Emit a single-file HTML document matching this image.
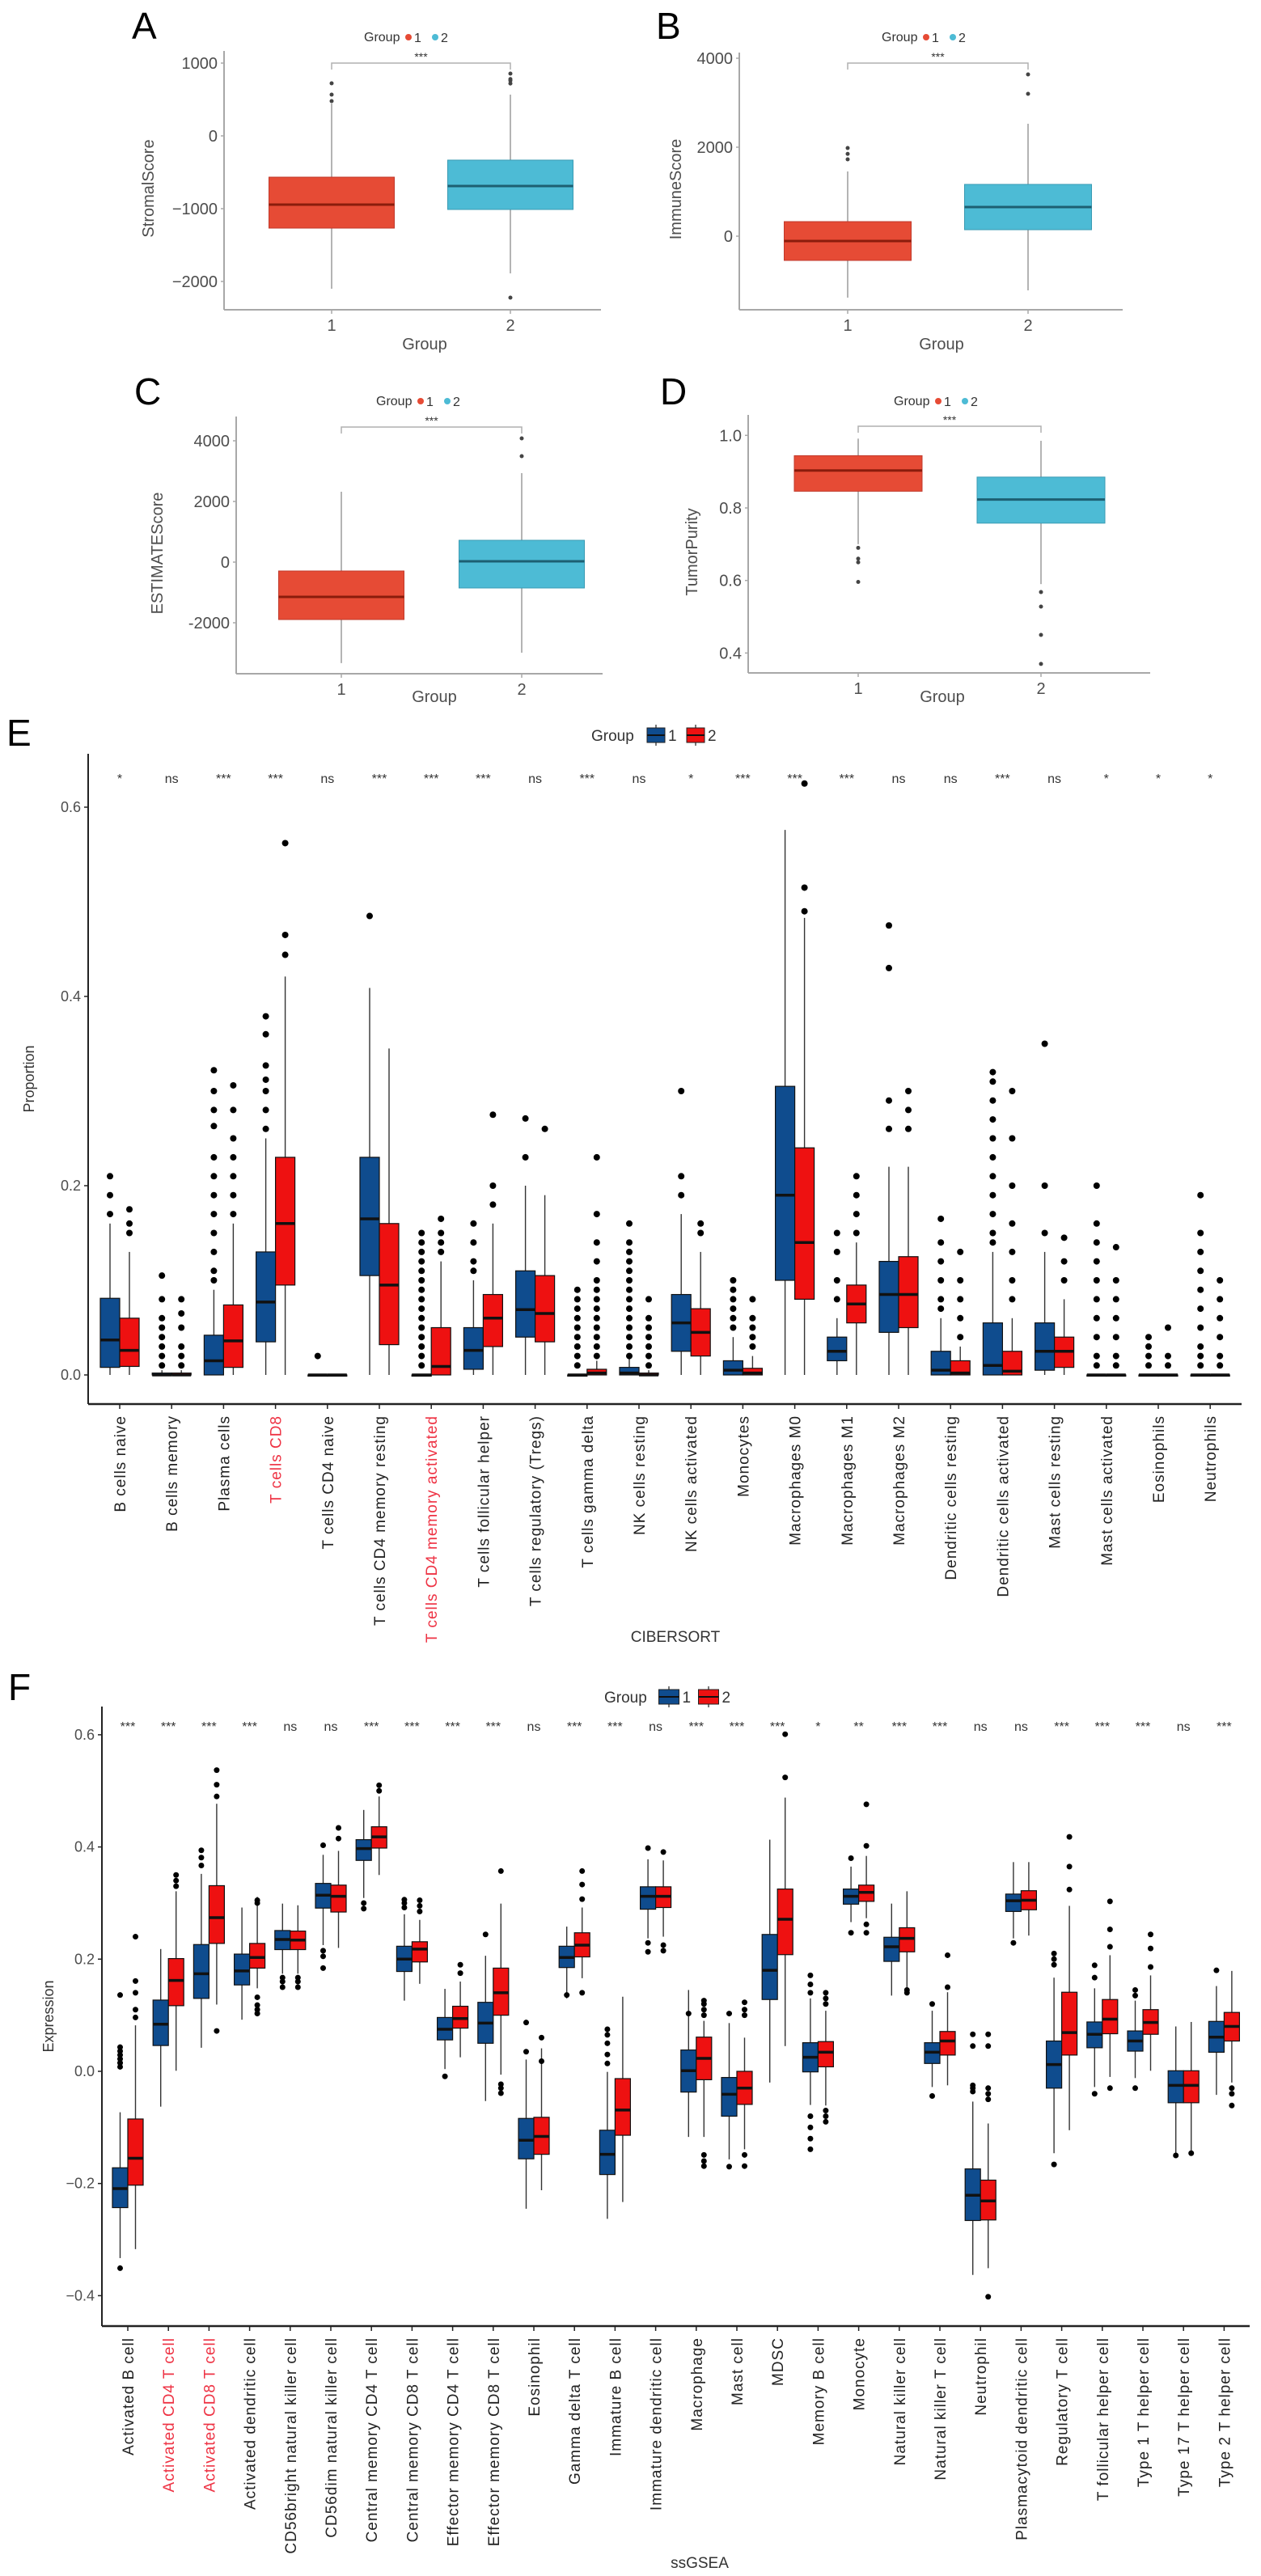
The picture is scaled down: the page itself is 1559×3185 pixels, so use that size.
<!DOCTYPE html>
<html><head><meta charset="utf-8"><title>Immune score figure</title>
<style>
html,body{margin:0;padding:0;background:#fff;}
svg{display:block;font-family:"Liberation Sans",Arial,sans-serif;}
</style></head>
<body>
<svg id="fig" xmlns="http://www.w3.org/2000/svg" width="1559" height="3185" viewBox="0 0 1559 3185"></svg>
<script>
// ---------- Panel A-D data ----------
const smallGroups = ["1","2"];
const aQ1 = [-1267,-1011], aMed = [-944,-689], aQ3 = [-567,-333], aLo = [-2100,-1889], aHi = [444,567];
const aOut = [[478,567,722],[720,760,780,856,-2222]];
const aTicks = [1000,0,-1000,-2000];
const bQ1 = [-545,145], bMed = [-109,655], bQ3 = [327,1164], bLo = [-1382,-1218], bHi = [1455,2527];
const bOut = [[1727,1850,1982],[3200,3636]];
const bTicks = [4000,2000,0];
const cQ1 = [-1893,-853], cMed = [-1147,27], cQ3 = [-293,720], cLo = [-3330,-2987], cHi = [2320,2933];
const cOut = [[],[3493,4080]];
const cTicks = [4000,2000,0,-2000];
const dQ1 = [0.846,0.758], dMed = [0.903,0.823], dQ3 = [0.944,0.885], dLo = [0.70,0.59], dHi = [0.991,0.985];
const dOut = [[0.596,0.65,0.66,0.69],[0.37,0.45,0.528,0.568]];
const dTicks = [1.0,0.8,0.6,0.4];

// ---------- Panel E data (CIBERSORT) ----------
const eCats = ["B cells naive","B cells memory","Plasma cells","T cells CD8","T cells CD4 naive","T cells CD4 memory resting","T cells CD4 memory activated","T cells follicular helper","T cells regulatory (Tregs)","T cells gamma delta","NK cells resting","NK cells activated","Monocytes","Macrophages M0","Macrophages M1","Macrophages M2","Dendritic cells resting","Dendritic cells activated","Mast cells resting","Mast cells activated","Eosinophils","Neutrophils"];
const eRedCats = ["T cells CD8","T cells CD4 memory activated"];
const eSig = ["*","ns","***","***","ns","***","***","***","ns","***","ns","*","***","***","***","ns","ns","***","ns","*","*","*"];
const eTicks = [0.0,0.2,0.4,0.6];
const eBlueQ1 = [.008,0,0,.035,0,.105,0,.006,.04,0,0,.025,0,.1,.015,.045,0,0,.005,0,0,0];
const eBlueMed = [.037,0,.015,.077,0,.165,0,.026,.069,0,.002,.055,.005,.19,.025,.085,.005,.01,.025,0,0,0];
const eBlueQ3 = [.081,.002,.042,.13,0,.23,0,.05,.11,0,.008,.085,.015,.305,.04,.12,.025,.055,.055,0,0,0];
const eBlueLo = [0,0,0,0,0,0,0,0,0,0,0,0,0,0,0,0,0,0,0,0,0,0];
const eBlueHi = [.16,.005,.09,.25,0,.409,0,.1,.2,0,.02,.17,.04,.576,.06,.22,.06,.13,.13,0,0,0];
const eBlueOut = [[.17,.19,.21],[.01,.02,.03,.04,.05,.06,.08,.105],[.1,.11,.13,.15,.17,.19,.21,.23,.263,.28,.3,.322],[.26,.28,.3,.312,.327,.36,.379],[.02],[.485],[.01,.02,.03,.04,.05,.06,.07,.08,.09,.1,.11,.12,.13,.14,.15],[.11,.12,.14,.16],[.23,.271],[.01,.02,.03,.04,.05,.06,.07,.08,.09],[.02,.03,.04,.05,.06,.07,.08,.09,.1,.11,.12,.13,.14,.16],[.19,.21,.3],[.05,.06,.07,.08,.09,.1],[],[.08,.1,.13,.15],[.26,.29,.43,.475],[.07,.08,.1,.12,.14,.165],[.14,.15,.17,.19,.21,.23,.25,.27,.29,.31,.32],[.15,.2,.35],[.01,.02,.04,.06,.08,.1,.12,.14,.16,.2],[.01,.02,.03,.04],[.01,.02,.03,.05,.07,.09,.11,.13,.15,.19]];
const eRedQ1 = [.009,0,.008,.095,0,.032,0,.03,.035,0,0,.02,0,.08,.055,.05,0,0,.008,0,0,0];
const eRedMed = [.026,0,.036,.16,0,.095,.009,.06,.065,.002,0,.045,.002,.14,.075,.085,.002,.004,.025,0,0,0];
const eRedQ3 = [.06,.002,.074,.23,0,.16,.05,.085,.105,.006,.002,.07,.007,.24,.095,.125,.015,.025,.04,0,0,0];
const eRedLo = [0,0,0,0,0,0,0,0,0,0,0,0,0,0,0,0,0,0,0,0,0,0];
const eRedHi = [.13,.005,.16,.421,0,.345,.12,.16,.19,.015,.005,.13,.02,.483,.14,.22,.03,.06,.08,0,0,0];
const eRedOut = [[.15,.16,.175],[.01,.02,.03,.05,.065,.08],[.17,.19,.21,.23,.25,.28,.306],[.444,.465,.562],[],[],[.13,.14,.15,.165],[.18,.2,.275],[.26],[.02,.03,.04,.05,.06,.07,.08,.09,.1,.12,.14,.17,.23],[.01,.02,.03,.04,.05,.06,.08],[.15,.16],[.03,.04,.05,.06,.08],[.49,.515,.625],[.15,.17,.19,.21],[.26,.28,.3],[.04,.06,.08,.1,.13],[.08,.1,.13,.16,.2,.25,.3],[.1,.12,.145],[.01,.02,.04,.06,.08,.1,.135],[.01,.02,.05],[.01,.02,.04,.06,.08,.1]];

// ---------- Panel F data (ssGSEA) ----------
const fCats = ["Activated B cell","Activated CD4 T cell","Activated CD8 T cell","Activated dendritic cell","CD56bright natural killer cell","CD56dim natural killer cell","Central memory CD4 T cell","Central memory CD8 T cell","Effector memory CD4 T cell","Effector memory CD8 T cell","Eosinophil","Gamma delta T cell","Immature B cell","Immature dendritic cell","Macrophage","Mast cell","MDSC","Memory B cell","Monocyte","Natural killer cell","Natural killer T cell","Neutrophil","Plasmacytoid dendritic cell","Regulatory T cell","T follicular helper cell","Type 1 T helper cell","Type 17 T helper cell","Type 2 T helper cell"];
const fRedCats = ["Activated CD4 T cell","Activated CD8 T cell"];
const fSig = ["***","***","***","***","ns","ns","***","***","***","***","ns","***","***","ns","***","***","***","*","**","***","***","ns","ns","***","***","***","ns","***"];
const fTicks = [-0.4,-0.2,0.0,0.2,0.4,0.6];
const fBlueQ1 = [-.243,.046,.13,.154,.217,.291,.376,.178,.056,.05,-.156,.185,-.184,.289,-.037,-.08,.128,-.001,.298,.196,.014,-.266,.285,-.03,.042,.036,-.056,.034];
const fBlueMed = [-.209,.084,.174,.179,.235,.314,.397,.2,.075,.086,-.123,.203,-.148,.312,.001,-.041,.18,.025,.312,.222,.034,-.221,.304,.012,.066,.054,-.025,.061];
const fBlueQ3 = [-.172,.127,.226,.209,.251,.335,.413,.223,.096,.123,-.084,.223,-.105,.329,.038,-.011,.244,.051,.325,.239,.051,-.174,.316,.054,.088,.072,.001,.089];
const fBlueLo = [-.333,-.063,.042,.092,.174,.225,.309,.126,.004,-.053,-.245,.13,-.263,.237,-.117,-.157,-.02,-.06,.266,.135,-.028,-.363,.237,-.146,-.028,-.012,-.146,-.042];
const fBlueHi = [-.073,.218,.352,.292,.299,.386,.466,.28,.147,.206,.021,.258,-.001,.378,.145,.086,.413,.13,.365,.299,.108,-.054,.373,.167,.148,.126,.08,.152];
const fBlueOut = [[-.351,.008,.015,.022,.029,.036,.043,.136],[],[.367,.381,.394],[],[.15,.16,.167],[.403,.184,.205,.215],[.29,.3],[.292,.3,.306],[-.009],[.244],[.035,.087],[.136],[.014,.03,.05,.065,.075],[.398,.229,.213],[.103],[.103,-.17],[],[.14,.155,.171,-.08,-.1,-.12,-.139],[.38,.247],[],[.12,-.044],[.066,.045,-.025,-.03,-.036],[.229],[.19,.2,.21,-.166],[.167,.189,-.04],[.135,.145,-.03],[-.15],[.18]];
const fRedQ1 = [-.203,.117,.228,.184,.217,.284,.398,.195,.077,.1,-.148,.204,-.114,.292,-.015,-.059,.208,.008,.303,.213,.029,-.265,.288,.029,.067,.066,-.056,.054];
const fRedMed = [-.155,.162,.274,.203,.234,.312,.418,.218,.094,.14,-.116,.225,-.069,.312,.023,-.03,.271,.034,.319,.237,.054,-.231,.305,.069,.093,.087,-.025,.08];
const fRedQ3 = [-.085,.201,.331,.228,.25,.332,.436,.231,.116,.184,-.082,.247,-.013,.329,.061,0,.325,.053,.332,.256,.071,-.194,.322,.141,.128,.11,.001,.105];
const fRedLo = [-.317,.001,.119,.148,.174,.22,.35,.156,.025,-.006,-.212,.166,-.233,.24,-.117,-.139,.045,-.061,.273,.148,-.025,-.351,.242,-.105,-.01,.001,-.142,-.02];
const fRedHi = [.082,.321,.477,.311,.296,.393,.49,.27,.16,.299,.041,.292,.133,.376,.09,.06,.488,.108,.384,.321,.141,-.093,.373,.295,.207,.171,.088,.179];
const fRedOut = [[.096,.11,.14,.161,.24],[.33,.34,.35],[.072,.49,.511,.537],[.3,.305,.103,.11,.118,.132],[.15,.16,.167],[.415,.434],[.5,.51],[.285,.295,.305],[.175,.19],[.357,-.023,-.03,-.039],[.018,.06],[.307,.333,.357,.14],[],[.391,.215,.225],[.1,.11,.12,.126,-.149,-.16,-.169],[.1,.11,.123,-.149,-.169],[.524,.601],[.12,.13,.14,-.07,-.08,-.09],[.402,.476,.262,.247],[.14,.145],[.207,.15],[.066,.045,-.03,-.04,-.05,-.402],[],[.324,.365,.418],[.222,.253,.303,-.03],[.186,.219,.244],[-.146],[-.03,-.04,-.061]];

// ---------- helpers ----------
const NS = "http://www.w3.org/2000/svg";
const svg = document.getElementById("fig");
function mk(tag, attrs, parent){
  const e = document.createElementNS(NS, tag);
  for (const k in attrs) e.setAttribute(k, attrs[k]);
  (parent || svg).appendChild(e);
  return e;
}
function txt(str, attrs, parent){
  const t = mk("text", attrs, parent);
  t.textContent = str;
  return t;
}
function fmt1(v){ return v.toFixed(1); }

function drawBox(g, cx, hw, q1, med, q3, lo, hi, outs, yf, st){
  const wl = mk("line", {x1:cx, x2:cx, y1:yf(hi), y2:yf(q3), stroke:st.wc, "stroke-width":st.ww}, g);
  
  
  const wl2 = mk("line", {x1:cx, x2:cx, y1:yf(q1), y2:yf(lo), stroke:st.wc, "stroke-width":st.ww}, g);
  
  
  const top = Math.min(yf(q3), yf(q1)), h = Math.max(Math.abs(yf(q1)-yf(q3)), 1.5);
  const r = mk("rect", {x:cx-hw, y:top, width:2*hw, height:h, fill:st.fill, stroke:st.stroke, "stroke-width":st.sw}, g);
  
  
  const m = mk("line", {x1:cx-hw, x2:cx+hw, y1:yf(med), y2:yf(med), stroke:st.mc, "stroke-width":st.mw}, g);
  
  
  for (const o of outs){
    const c = mk("circle", {cx:cx, cy:yf(o), r:st.dr, fill:st.dc}, g);
    
    
  }
}

// ---------- small panels ----------
function smallPanel(cfg){
  const g = mk("g", {});
  
  
  const yf = v => cfg.y0 - (v - cfg.v0) * cfg.k;
  const L = txt(cfg.letter, {x:cfg.lx, y:cfg.ly, "font-size":46, fill:"#000"}, g);
  
  
  const lg = mk("g", {}, g);
  
  
  const lt = txt("Group", {x:cfg.legX, y:cfg.legY+5, "font-size":16, fill:"#333"}, lg);
  
  
  const cols = ["#e64b35","#4dbbd5"];
  for (let i=0;i<2;i++){
    const dx = cfg.legX + 55 + i*33;
    const d = mk("circle", {cx:dx, cy:cfg.legY, r:4, fill:cols[i]}, lg);
    
    
    const t = txt(smallGroups[i], {x:dx+7, y:cfg.legY+6, "font-size":16, fill:"#333"}, lg);
    
    
  }
  const ya = mk("line", {x1:cfg.ax, x2:cfg.ax, y1:cfg.top, y2:cfg.base, stroke:"#a8a8a8", "stroke-width":2}, g);
  
  
  const xa = mk("line", {x1:cfg.ax, x2:cfg.xr, y1:cfg.base, y2:cfg.base, stroke:"#a8a8a8", "stroke-width":2}, g);
  
  
  for (const tv of cfg.ticks){
    const tk = mk("line", {x1:cfg.ax-4, x2:cfg.ax, y1:yf(tv), y2:yf(tv), stroke:"#a8a8a8", "stroke-width":1.5}, g);
    
    
    const tl = txt(cfg.tfmt(tv), {x:cfg.ax-8, y:yf(tv)+7, "font-size":20, "text-anchor":"end", fill:"#4d4d4d"}, g);
    
    
  }
  const yl = txt(cfg.ylab, {x:0, y:0, "font-size":20, "text-anchor":"middle", fill:"#4d4d4d", transform:`translate(${cfg.ylx},${(cfg.top+cfg.base)/2+10}) rotate(-90)`}, g);
  
  
  const fills = ["#e64b35","#4dbbd5"], strokes = ["#c0392b","#3a9bb3"], meds = ["#8a1c0c","#1d5f72"];
  for (let i=0;i<2;i++){
    const cx = cfg.cx[i];
    const tk = mk("line", {x1:cx, x2:cx, y1:cfg.base, y2:cfg.base+5, stroke:"#a8a8a8", "stroke-width":1.5}, g);
    
    
    const xl = txt(smallGroups[i], {x:cx, y:cfg.base+cfg.tly, "font-size":20, "text-anchor":"middle", fill:"#4d4d4d"}, g);
    
    
    const bg = mk("g", {}, g);
    
    
    drawBox(bg, cx, cfg.hw, cfg.q1[i], cfg.med[i], cfg.q3[i], cfg.lo[i], cfg.hi[i], cfg.out[i], yf,
      {wc:"#9a9a9a", ww:1.5, fill:fills[i], stroke:strokes[i], sw:1, mc:meds[i], mw:3, dr:2.5, dc:"#444"});
  }
  const xt = txt("Group", {x:cfg.gx, y:cfg.gy, "font-size":20, "text-anchor":"middle", fill:"#4d4d4d"}, g);
  
  
  const br = mk("path", {d:`M${cfg.cx[0]},${cfg.bry+8} V${cfg.bry} H${cfg.cx[1]} V${cfg.bry+8}`, fill:"none", stroke:"#b0b0b0", "stroke-width":1.5}, g);
  
  
  const st = txt("***", {x:(cfg.cx[0]+cfg.cx[1])/2, y:cfg.bry-3, "font-size":14, "text-anchor":"middle", fill:"#333"}, g);
  
  
}

smallPanel({name:"panel-a-stromal", letter:"A", lx:163, ly:48, legX:450, legY:46, ax:277, xr:743, top:63, base:383,
  y0:168, v0:0, k:0.09, ticks:aTicks, tfmt:v=>v<0?"\u2212"+(-v):String(v), ylab:"StromalScore", ylx:190,
  cx:[410,631], hw:77.5, q1:aQ1, med:aMed, q3:aQ3, lo:aLo, hi:aHi, out:aOut, gx:525, gy:432, tly:26, bry:78});
smallPanel({name:"panel-b-immune", letter:"B", lx:811, ly:48, legX:1090, legY:46, ax:914, xr:1388, top:65, base:383,
  y0:292, v0:0, k:0.055, ticks:bTicks, tfmt:v=>String(v), ylab:"ImmuneScore", ylx:842,
  cx:[1048,1271], hw:78.5, q1:bQ1, med:bMed, q3:bQ3, lo:bLo, hi:bHi, out:bOut, gx:1164, gy:432, tly:26, bry:78});
smallPanel({name:"panel-c-estimate", letter:"C", lx:166, ly:500, legX:465, legY:496, ax:292, xr:745, top:515, base:833,
  y0:695, v0:0, k:0.0375, ticks:cTicks, tfmt:v=>String(v), ylab:"ESTIMATEScore", ylx:201,
  cx:[422,645], hw:77.5, q1:cQ1, med:cMed, q3:cQ3, lo:cLo, hi:cHi, out:cOut, gx:537, gy:868, tly:26, bry:528});
smallPanel({name:"panel-d-purity", letter:"D", lx:816, ly:500, legX:1105, legY:496, ax:925, xr:1422, top:513, base:832,
  y0:628, v0:0.8, k:448.5, ticks:dTicks, tfmt:fmt1, ylab:"TumorPurity", ylx:862,
  cx:[1061,1287], hw:79, q1:dQ1, med:dMed, q3:dQ3, lo:dLo, hi:dHi, out:dOut, gx:1165, gy:868, tly:26, bry:527});

// ---------- big panels ----------
function bigPanel(cfg){
  const g = mk("g", {});
  
  
  const yf = v => cfg.y0 - v * cfg.k;
  const xf = i => cfg.x0 + cfg.dx * i;
  const L = txt(cfg.letter, {x:cfg.lx, y:cfg.ly, "font-size":46, fill:"#000"}, g);
  
  
  const lg = mk("g", {}, g);
  
  
  const lt = txt("Group", {x:cfg.legX, y:cfg.legY+7, "font-size":19, fill:"#333"}, lg);
  
  
  const cols = ["#0f4c8e","#ee1111"];
  for (let i=0;i<2;i++){
    const kx = cfg.legX + 80 + i*49;
    const wk = mk("line", {x1:kx, x2:kx, y1:cfg.legY-13, y2:cfg.legY+13, stroke:"#222", "stroke-width":1.2}, lg);
    
    
    const kb = mk("rect", {x:kx-cfg.legW/2, y:cfg.legY-9, width:cfg.legW, height:18, fill:cols[i], stroke:"#222", "stroke-width":1}, lg);
    
    
    const km = mk("line", {x1:kx-cfg.legW/2, x2:kx+cfg.legW/2, y1:cfg.legY, y2:cfg.legY, stroke:"#111", "stroke-width":2}, lg);
    
    
    const t = txt(String(i+1), {x:kx+cfg.legW/2+4, y:cfg.legY+7, "font-size":19, fill:"#333"}, lg);
    
    
  }
  const ya = mk("line", {x1:cfg.ax, x2:cfg.ax, y1:cfg.top, y2:cfg.base, stroke:"#222", "stroke-width":2}, g);
  
  
  const xa = mk("line", {x1:cfg.ax, x2:cfg.xr, y1:cfg.base, y2:cfg.base, stroke:"#222", "stroke-width":2.5}, g);
  
  
  for (const tv of cfg.ticks){
    const tk = mk("line", {x1:cfg.ax-5, x2:cfg.ax, y1:yf(tv), y2:yf(tv), stroke:"#222", "stroke-width":1.5}, g);
    
    
    const tl = txt(tv<0?"\u2212"+fmt1(-tv):fmt1(tv), {x:cfg.ax-9, y:yf(tv)+6, "font-size":18, "text-anchor":"end", fill:"#4d4d4d"}, g);
    
    
  }
  const yl = txt(cfg.ylab, {x:0, y:0, "font-size":18, "text-anchor":"middle", fill:"#333", transform:`translate(${cfg.ylx},${(cfg.top+cfg.base)/2}) rotate(-90)`}, g);
  
  
  const xt = txt(cfg.xlab, {x:cfg.xlx, y:cfg.xly, "font-size":19, "text-anchor":"middle", fill:"#333"}, g);
  
  
  for (let i=0;i<cfg.cats.length;i++){
    const cx = xf(i);
    const tk = mk("line", {x1:cx, x2:cx, y1:cfg.base, y2:cfg.base+6, stroke:"#222", "stroke-width":1.5}, g);
    
    
    const red = cfg.redCats.indexOf(cfg.cats[i]) >= 0;
    const lab = txt(cfg.cats[i], {x:cx+7, y:cfg.base+14, "font-size":cfg.fs, "letter-spacing":1, "text-anchor":"end", fill:red?"#ee3344":"#222", transform:`rotate(-90 ${cx+7} ${cfg.base+14})`}, g);
    
    
    const sg = txt(cfg.sig[i], {x:cx, y:cfg.sigY, "font-size":16, "text-anchor":"middle", fill:"#333"}, g);
    
    
    const bg = mk("g", {}, g);
    
    
    const stB = {wc:"#333", ww:1.4, fill:"#0f4c8e", stroke:"#111", sw:1.2, mc:"#111", mw:3.5, dr:cfg.dr, dc:"#000"};
    const stR = {wc:"#333", ww:1.4, fill:"#ee1111", stroke:"#111", sw:1.2, mc:"#111", mw:3.5, dr:cfg.dr, dc:"#000"};
    drawBox(bg, cx-cfg.hw, cfg.hw, cfg.bq1[i], cfg.bmed[i], cfg.bq3[i], cfg.blo[i], cfg.bhi[i], cfg.bout[i], yf, stB);
    drawBox(bg, cx+cfg.hw, cfg.hw, cfg.rq1[i], cfg.rmed[i], cfg.rq3[i], cfg.rlo[i], cfg.rhi[i], cfg.rout[i], yf, stR);
  }
}

bigPanel({name:"panel-e-cibersort", letter:"E", lx:8, ly:922, legX:731, legY:909, legW:22,
  ax:109, xr:1535, top:932, base:1736, y0:1700, k:1170, x0:148, dx:64.2, hw:12, dr:4,
  ticks:eTicks, ylab:"Proportion", ylx:42, xlab:"CIBERSORT", xlx:835, xly:2030, sigY:968, fs:19,
  cats:eCats, redCats:eRedCats, sig:eSig,
  bq1:eBlueQ1, bmed:eBlueMed, bq3:eBlueQ3, blo:eBlueLo, bhi:eBlueHi, bout:eBlueOut,
  rq1:eRedQ1, rmed:eRedMed, rq3:eRedQ3, rlo:eRedLo, rhi:eRedHi, rout:eRedOut});
bigPanel({name:"panel-f-ssgsea", letter:"F", lx:10, ly:2102, legX:747, legY:2098, legW:25,
  ax:126, xr:1545, top:2110, base:2876, y0:2561, k:693.5, x0:158, dx:50.2, hw:9.5, dr:3.5,
  ticks:fTicks, ylab:"Expression", ylx:66, xlab:"ssGSEA", xlx:865, xly:3175, sigY:2140, fs:19,
  cats:fCats, redCats:fRedCats, sig:fSig,
  bq1:fBlueQ1, bmed:fBlueMed, bq3:fBlueQ3, blo:fBlueLo, bhi:fBlueHi, bout:fBlueOut,
  rq1:fRedQ1, rmed:fRedMed, rq3:fRedQ3, rlo:fRedLo, rhi:fRedHi, rout:fRedOut});
</script>
</body></html>
